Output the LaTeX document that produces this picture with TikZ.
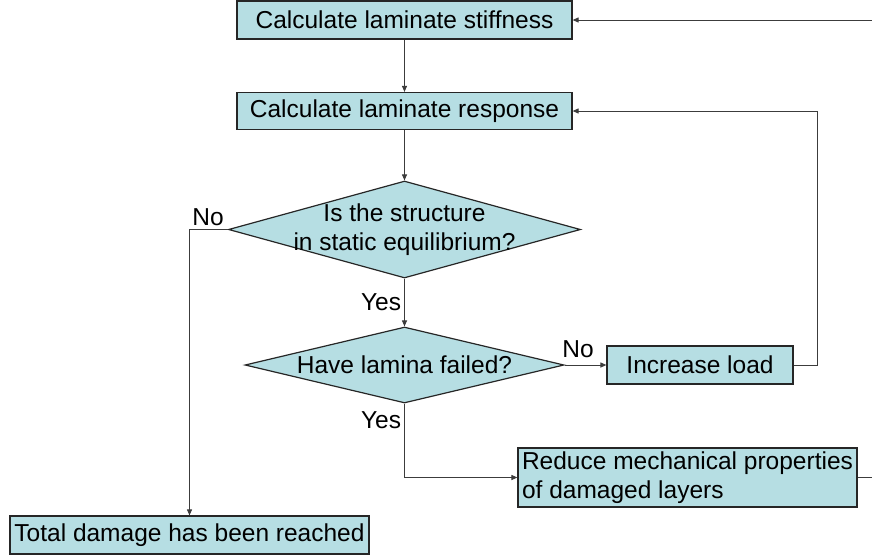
\documentclass[tikz,border=0pt]{standalone}
\usepackage{fontspec}
\setmainfont{Liberation Sans}
\usetikzlibrary{shapes.geometric,arrows.meta}
\definecolor{boxfill}{RGB}{182,222,227}
\definecolor{linegray}{RGB}{60,60,60}
\begin{document}
\begin{tikzpicture}[x=1pt,y=-1pt,
  every node/.style={font=\fontsize{24.5}{28}\selectfont},
  procbox/.style={draw=black!85,line width=1.2pt,fill=boxfill,inner sep=0pt,anchor=center},
  decbox/.style={shape=diamond,draw=black!85,line width=1.2pt,fill=boxfill,inner sep=0pt},
  conn/.style={draw=linegray,line width=1pt},
  arr/.style={conn,-{Triangle[length=6pt,width=5pt]}},
  lbl/.style={inner sep=0pt}]
\useasboundingbox (0,0) rectangle (872,558);
\fill[white] (0,0) rectangle (872,558);
\coordinate (rtop) at (872,20);
\coordinate (rbot) at (872,477.5);
\coordinate (loopc) at (817,111);
\node[procbox,minimum width=335pt,minimum height=38pt] (stiff) at (404.5,20) {Calculate laminate stiffness};
\node[procbox,minimum width=335pt,minimum height=37pt] (resp) at (404.5,111) {Calculate laminate response};
\node[decbox,minimum width=352pt,minimum height=97pt] (d1) at (404.5,229.5) {};
\node[lbl,align=center,font=\fontsize{24.5}{29}\selectfont] (d1t) at (d1.center) {Is the structure\\in static equilibrium?};
\node[decbox,minimum width=319pt,minimum height=76pt] (d2) at (404.5,365) {};
\node[lbl] (d2t) at (d2.center) {Have lamina failed?};
\node[procbox,minimum width=186pt,minimum height=38pt] (inc) at (700,365) {Increase load};
\node[procbox,minimum width=339pt,minimum height=59pt,align=left,font=\fontsize{24.5}{29}\selectfont] (red) at (687.5,477.5) {Reduce mechanical properties\\of damaged layers};
\node[procbox,minimum width=359pt,minimum height=38pt] (tot) at (189.5,535) {Total damage has been reached};
\node[lbl] (no1) at (208,217) {No};
\node[lbl] (yes1) at (381,302) {Yes};
\node[lbl] (no2) at (578,349) {No};
\node[lbl] (yes2) at (381,420) {Yes};
\draw[arr] (rtop) -- (stiff.east);
\draw[arr] (stiff.south) -- (resp.north);
\draw[arr] (resp.south) -- (d1.north);
\draw[arr] (d1.south) -- (d2.north);
\draw[arr] (d1.west) -| (tot.north);
\draw[arr] (d2.east) -- (inc.west);
\draw[arr] (inc.east) -| (loopc) -- (resp.east);
\draw[arr] (d2.south) |- (red.west);
\draw[conn] (red.east) -- (rbot);
\end{tikzpicture}
\end{document}
